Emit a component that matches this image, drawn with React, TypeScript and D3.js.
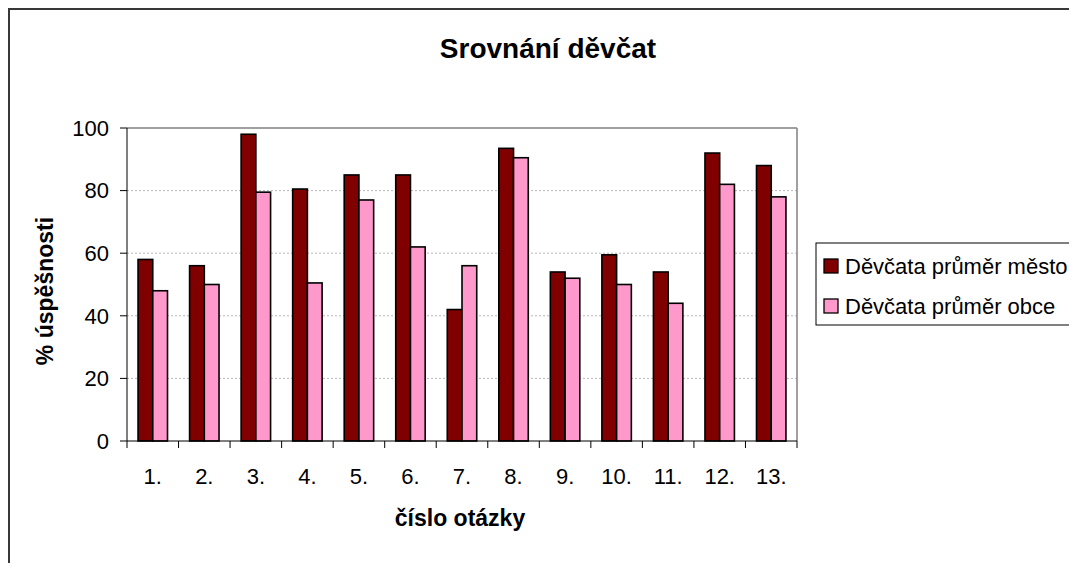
import React from "react";
import * as d3 from "d3";

const categories = ["1.", "2.", "3.", "4.", "5.", "6.", "7.", "8.", "9.", "10.", "11.", "12.", "13."];
const seriesNames = ["Děvčata průměr město", "Děvčata průměr obce"];
const mestoValues = [58, 56, 98, 80.5, 85, 85, 42, 93.5, 54, 59.5, 54, 92, 88];
const obceValues = [48, 50, 79.5, 50.5, 77, 62, 56, 90.5, 52, 50, 44, 82, 78];
const yTicks = [0, 20, 40, 60, 80, 100];
const seriesColors = ["#800000", "#FF99CC"];

const FONT = "'Liberation Sans', Arial, Helvetica, sans-serif";

export default function App() {
  const plot = { left: 127, right: 797, top: 128, bottom: 441 };
  const x = d3.scaleBand<string>().domain(categories).range([plot.left, plot.right]).paddingInner(0).paddingOuter(0);
  const inner = d3.scaleBand<number>().domain([0, 1]).range([0, x.bandwidth()]).paddingInner(0).paddingOuter(0.75);
  const y = d3.scaleLinear().domain([0, 100]).range([plot.bottom, plot.top]);
  const series = [mestoValues, obceValues];
  const boundaries = categories.map((c) => x(c) as number).concat([plot.right]);

  return (
    <svg width={1069} height={555} style={{ display: "block" }}>
      <g transform="translate(-8,-8)">
        <rect x={0} y={0} width={1100} height={600} fill="#ffffff" />
        {/* outer chart border */}
        <rect x={9} y={9} width={1200} height={700} fill="none" stroke="#383838" strokeWidth={2} />
        {/* title */}
        <text x={548} y={58} textAnchor="middle" fontFamily={FONT} fontWeight="bold" fontSize={28} fill="#000">
          Srovnání děvčat
        </text>
        {/* gridlines */}
        {yTicks.filter((t) => t > 0 && t < 100).map((t) => (
          <line key={"g" + t} x1={plot.left} x2={plot.right} y1={y(t)} y2={y(t)} stroke="#b8b8b8" strokeWidth={1} strokeDasharray="2,2" />
        ))}
        {/* plot area top and right border */}
        <line x1={plot.left} x2={plot.right} y1={y(100)} y2={y(100)} stroke="#808080" strokeWidth={1.5} />
        <line x1={plot.right} x2={plot.right} y1={plot.top} y2={plot.bottom} stroke="#808080" strokeWidth={1.5} />
        {/* bars */}
        {categories.map((c, i) => (
          <g key={c}>
            {series.map((vals, s) => (
              <rect
                key={s}
                x={(x(c) as number) + (inner(s) as number)}
                y={y(vals[i])}
                width={inner.bandwidth()}
                height={plot.bottom - y(vals[i])}
                fill={seriesColors[s]}
                stroke="#000"
                strokeWidth={1.6}
              />
            ))}
          </g>
        ))}
        {/* y axis */}
        <line x1={plot.left} x2={plot.left} y1={plot.top} y2={plot.bottom} stroke="#000" strokeWidth={1} />
        {yTicks.map((t) => (
          <g key={"y" + t}>
            <line x1={plot.left - 7} x2={plot.left} y1={y(t)} y2={y(t)} stroke="#000" strokeWidth={1} />
            <text x={109} y={y(t)} dy="0.35em" textAnchor="end" fontFamily={FONT} fontSize={22} fill="#000">
              {t}
            </text>
          </g>
        ))}
        {/* x axis */}
        <line x1={plot.left} x2={plot.right} y1={plot.bottom} y2={plot.bottom} stroke="#000" strokeWidth={1} />
        {boundaries.map((bx, i) => (
          <line key={"xt" + i} x1={bx} x2={bx} y1={plot.bottom} y2={plot.bottom + 7} stroke="#000" strokeWidth={1} />
        ))}
        {categories.map((c) => (
          <text key={"xl" + c} x={(x(c) as number) + x.bandwidth() / 2} y={484} textAnchor="middle" fontFamily={FONT} fontSize={22} fill="#000">
            {c}
          </text>
        ))}
        {/* axis titles */}
        <text x={460} y={526} textAnchor="middle" fontFamily={FONT} fontWeight="bold" fontSize={23} fill="#000">
          číslo otázky
        </text>
        <text transform="translate(53,291) rotate(-90)" textAnchor="middle" fontFamily={FONT} fontWeight="bold" fontSize={23} fill="#000">
          % úspěšnosti
        </text>
        {/* legend */}
        <rect x={816} y={243} width={400} height={82} fill="#fff" stroke="#000" strokeWidth={1} />
        {seriesNames.map((n, i) => (
          <g key={n} transform={`translate(824,${266 + i * 40})`}>
            <rect x={0} y={-7} width={14} height={14} fill={seriesColors[i]} stroke="#000" strokeWidth={1.3} />
            <text x={21} y={0} dy="0.35em" fontFamily={FONT} fontSize={22} fill="#000">
              {n}
            </text>
          </g>
        ))}
      </g>
    </svg>
  );
}
